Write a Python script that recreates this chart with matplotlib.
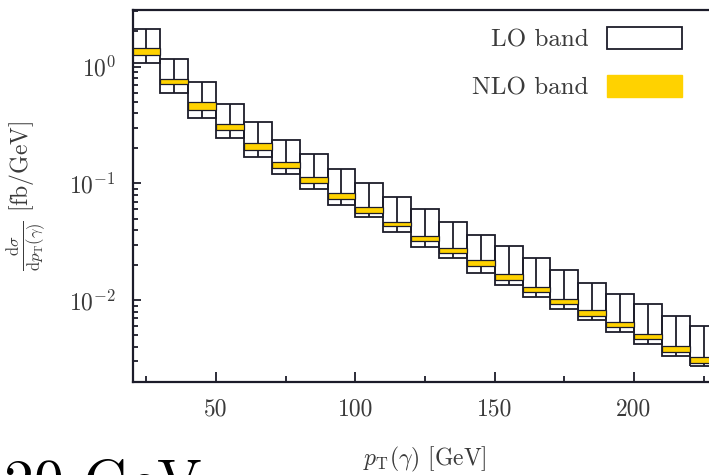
import matplotlib
matplotlib.use("Agg")
import matplotlib.pyplot as plt
from matplotlib.patches import Patch
import numpy as np

plt.rcParams['font.family'] = 'cmr10'
plt.rcParams['mathtext.fontset'] = 'cm'
plt.rcParams['axes.formatter.use_mathtext'] = True

# photon pT bins (lower edges, GeV), all 10 GeV wide
bin_low = [20, 30, 40, 50, 60, 70, 80, 90, 100, 110, 120,
           130, 140, 150, 160, 170, 180, 190, 200, 210, 220]
bin_width = 10

# LO scale band: min / max of dsigma/dpT [fb/GeV]
lo_min = [1.08, 0.599, 0.361, 0.246, 0.1693, 0.1196, 0.0890, 0.0653, 0.0512, 0.0385, 0.0287,
          0.0228, 0.01728, 0.01364, 0.01068, 0.00850, 0.00674, 0.00535, 0.00424, 0.00333, 0.00276]
lo_max = [2.09, 1.164, 0.735, 0.476, 0.334, 0.2353, 0.1785, 0.1320, 0.1013, 0.0760, 0.0599,
          0.0469, 0.0361, 0.0290, 0.0228, 0.01809, 0.01419, 0.01142, 0.00925, 0.00737, 0.00605]

# NLO scale band
nlo_min = [1.26, 0.711, 0.4255, 0.287, 0.1932, 0.1346, 0.1001, 0.0730, 0.0554, 0.0431, 0.0323,
           0.0252, 0.01957, 0.01506, 0.01172, 0.00925, 0.00730, 0.00591, 0.00463, 0.00362, 0.00291]
nlo_max = [1.455, 0.780, 0.501, 0.323, 0.2205, 0.1534, 0.1141, 0.0832, 0.0631, 0.0469, 0.0354,
           0.0283, 0.0220, 0.01695, 0.0130, 0.01035, 0.00822, 0.00652, 0.00512, 0.00404, 0.00325]

x_ticks = [50, 100, 150, 200]
y_ticks = [1e-2, 1e-1, 1e0]
y_ticklabels = [r'$10^{-2}$', r'$10^{-1}$', r'$10^{0}$']

line_col = '#1c1c2a'
band_col = '#ffd200'
text_col = '#3a3a3a'

lo_min, lo_max = np.array(lo_min), np.array(lo_max)
nlo_min, nlo_max = np.array(nlo_min), np.array(nlo_max)
centers = np.array(bin_low) + bin_width / 2

fig = plt.figure(figsize=(7.09, 4.75), dpi=100)
ax = fig.add_axes([0.1869, 0.1958, 0.8251, 0.7832])

# LO band: open boxes with a central vertical bar
ax.bar(centers, lo_max - lo_min, bottom=lo_min, width=bin_width,
       fill=False, edgecolor=line_col, linewidth=1.3, zorder=2)
ax.vlines(centers, lo_min, lo_max, color=line_col, linewidth=1.3, zorder=2)
# NLO band on top
ax.bar(centers, nlo_max - nlo_min, bottom=nlo_min, width=bin_width,
       color=band_col, edgecolor=line_col, linewidth=0.9, zorder=3)

ax.set_yscale('log')
ax.set_xlim(20, 230)
ax.set_ylim(2e-3, 3.05)

ax.set_xticks(x_ticks)
ax.set_xticklabels([str(t) for t in x_ticks])
ax.set_xticks([25, 75, 125, 175, 225], minor=True)
ax.set_yticks(y_ticks)
ax.set_yticklabels(y_ticklabels)

ax.tick_params(which='both', direction='in', colors=line_col, labelcolor=text_col,
               labelsize=17, width=1.3, right=True, top=False)
ax.tick_params(axis='x', which='major', length=7, pad=12)
ax.tick_params(axis='x', which='minor', length=4)
ax.tick_params(axis='y', which='major', length=6, pad=12)
ax.tick_params(axis='y', which='minor', length=3.5)
for sp in ax.spines.values():
    sp.set_linewidth(1.6)
    sp.set_color(line_col)

ax.set_xlabel(r'$p_{\mathrm{T}}(\gamma)$ [GeV]', fontsize=17, color=text_col)
ax.xaxis.set_label_coords(0.5, -0.17)
ax.set_ylabel(r'$\frac{\mathrm{d}\sigma}{\mathrm{d}p_{\mathrm{T}}(\gamma)}$ [fb/GeV]',
              fontsize=17, color=text_col)
ax.yaxis.set_label_coords(-0.145, 0.5)

handles = [Patch(facecolor='white', edgecolor=line_col, linewidth=1.3),
           Patch(facecolor=band_col, edgecolor=band_col)]
leg = ax.legend(handles, ['LO band', 'NLO band'], loc='upper right',
                bbox_to_anchor=(0.94, 0.953), frameon=False, markerfirst=False,
                fontsize=18, handlelength=3.0, handleheight=0.96,
                labelspacing=0.92, handletextpad=0.75, borderpad=0, borderaxespad=0)
for t in leg.get_texts():
    t.set_color(text_col)

# panel caption below, mostly outside the frame
fig.text(0.005, -0.054, '20 GeV', fontsize=43, color='black', va='baseline')

fig.savefig('out.png', dpi=100)
